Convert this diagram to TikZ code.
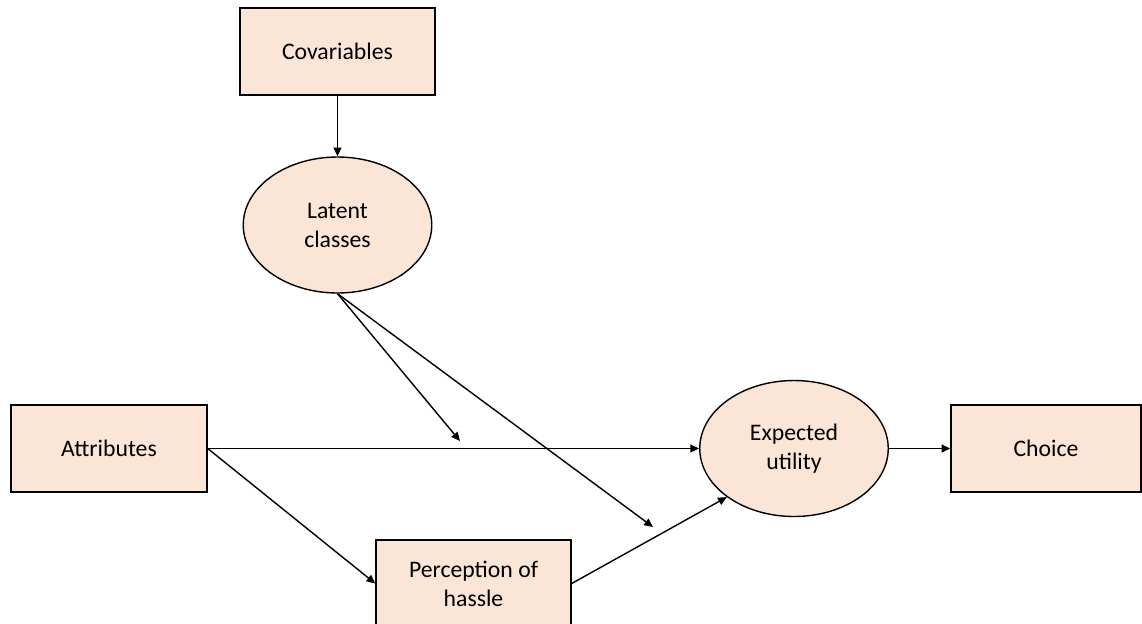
\documentclass[tikz,border=0pt]{standalone}
\usepackage{fontspec}
\setmainfont{Carlito}
\usetikzlibrary{arrows.meta,shapes.geometric}
\definecolor{peach}{HTML}{FBE5D6}

\begin{document}
\begin{tikzpicture}[
  every node/.style={font=\fontsize{13.5}{16.5}\selectfont, align=center, inner sep=0pt},
  box/.style={draw=black, fill=peach, line width=0.8pt, minimum width=3.9cm, minimum height=1.74cm},
  oval/.style={draw=black, fill=peach, line width=0.8pt, ellipse, minimum width=3.77cm, minimum height=2.72cm},
  link/.style={-{Triangle[length=5pt,width=4.5pt]}, line width=0.8pt}
]
\useasboundingbox (0,0) rectangle (22.84,-12.46);

\node [box] (cov) at (6.75,-1.03) {Covariables};
\node [oval] (lat) at (6.75,-4.5) {Latent\\classes};
\node [box, minimum width=3.92cm] (attr) at (2.18,-8.97) {Attributes};
\node [oval] (eu) at (15.88,-8.97) {Expected\\utility};
\node [box, minimum width=3.8cm] (choice) at (20.92,-8.97) {Choice};
\node [box] (hassle) at (9.47,-11.67) {Perception of\\hassle};

% free ends of the two moderating arrows
\coordinate (m1) at (9.2,-8.82);
\coordinate (m2) at (13.06,-10.54);

\draw [link] (cov) -- (lat);
\draw [link] (lat.south) -- (m1);
\draw [link] (lat.south) -- (m2);
\draw [link] (attr.east) -- (eu.west);
\draw [link] (eu.east) -- (choice.west);
\draw [link] (attr.east) -- (hassle.west);
\draw [link] (hassle.east) -- (eu.south west);

\end{tikzpicture}
\end{document}
